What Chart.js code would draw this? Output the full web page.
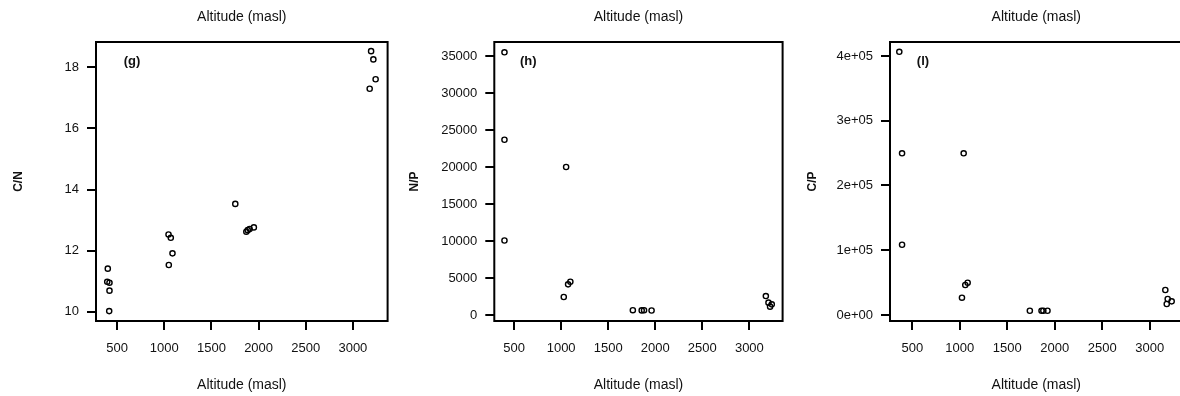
<!DOCTYPE html>
<html>
<head>
<meta charset="utf-8">
<script src="https://cdn.jsdelivr.net/npm/chart.js@4/dist/chart.umd.min.js"></script>
<style>
  html, body { margin: 0; padding: 0; background: #fff; overflow: hidden; }
  body { width: 1180px; height: 396px; position: relative; }
  .panel { position: absolute; top: 0; height: 396px; }
</style>
</head>
<body>
<div class="panel" style="left:0px;width:393px"><canvas id="g1"></canvas></div>
<div class="panel" style="left:393px;width:395px"><canvas id="g2"></canvas></div>
<div class="panel" style="left:788px;width:400px"><canvas id="g3"></canvas></div>
<script>
// altitudes and ratios
const altCN = [401, 395, 419, 419, 416, 1045, 1069, 1087, 1048, 1753, 1870, 1885, 1905, 1950, 3193, 3217, 3241, 3178];
const valCN = [11.41, 10.98, 10.95, 10.69, 10.02, 12.53, 12.42, 11.91, 11.53, 13.53, 12.62, 12.67, 12.71, 12.76, 18.53, 18.26, 17.61, 17.30];

const altNP = [398, 398, 398, 1053, 1028, 1074, 1098, 1762, 1856, 1881, 1961, 3175, 3203, 3238, 3220];
const valNP = [35500, 23680, 10070, 20000, 2430, 4140, 4500, 650, 620, 640, 610, 2560, 1670, 1440, 1130];

const altCP = [363, 392, 392, 1041, 1023, 1058, 1083, 1738, 1861, 1880, 1924, 3165, 3190, 3232, 3180];
const valCP = [406500, 249700, 108500, 249700, 26700, 46300, 49900, 6600, 6600, 6600, 6600, 38600, 24700, 21100, 17000];

// tick labels
const xTicks = [500, 1000, 1500, 2000, 2500, 3000];
const yTicksCN = [10, 12, 14, 16, 18];
const yTicksNP = [0, 5000, 10000, 15000, 20000, 25000, 30000, 35000];
const yTicksCP = [0, 100000, 200000, 300000, 400000];
const yLabelsCP = ["0e+00", "1e+05", "2e+05", "3e+05", "4e+05"];

const FONT = "'Liberation Sans', Arial, sans-serif";

// box around the plot region + panel letter
const boxPlugin = {
  id: "box",
  afterDraw(chart, args, opts) {
    const { ctx, chartArea: a } = chart;
    ctx.save();
    ctx.strokeStyle = "#000";
    ctx.lineWidth = 2;
    ctx.strokeRect(a.left, a.top, a.right - a.left, a.bottom - a.top);
    ctx.fillStyle = "#111";
    ctx.font = "bold 13px " + FONT;
    ctx.textAlign = "center";
    ctx.textBaseline = "middle";
    ctx.fillText(opts.letter, a.left + opts.dx, a.top + 19);
    ctx.restore();
  }
};

function makePanel(id, cfg) {
  const pts = cfg.alt.map((a, i) => ({ x: a, y: cfg.val[i] }));
  return new Chart(document.getElementById(id), {
    type: "scatter",
    data: {
      datasets: [{
        data: pts,
        pointStyle: "circle",
        pointRadius: 2.6,
        pointBorderWidth: 1.4,
        borderColor: "#000",
        backgroundColor: "rgba(0,0,0,0)"
      }]
    },
    options: {
      responsive: true,
      maintainAspectRatio: false,
      animation: false,
      layout: { padding: { left: 0, right: cfg.padRight, top: 0, bottom: 0 } },
      plugins: {
        legend: { display: false },
        tooltip: { enabled: false },
        box: { letter: cfg.letter, dx: cfg.letterDx }
      },
      scales: {
        x: {
          type: "linear",
          position: "bottom",
          min: cfg.xMin, max: cfg.xMax,
          afterBuildTicks: s => { s.ticks = xTicks.map(v => ({ value: v })); },
          afterFit: s => { s.height = 75; },
          border: { display: false },
          grid: { drawOnChartArea: false, drawTicks: true, tickLength: 9, color: "#000", lineWidth: 2 },
          ticks: {
            color: "#111", font: { family: FONT, size: 13 }, padding: 10.5, maxRotation: 0, autoSkip: false,
            callback: v => String(v)
          },
          title: { display: true, text: "Altitude (masl)", color: "#111", font: { family: FONT, size: 14 }, padding: { top: 0, bottom: 2.6 } }
        },
        xTop: {
          type: "linear",
          axis: "x",
          position: "top",
          min: cfg.xMin, max: cfg.xMax,
          afterFit: s => { s.height = 42; },
          border: { display: false },
          grid: { display: false },
          ticks: { display: false },
          title: { display: true, text: "Altitude (masl)", color: "#111", font: { family: FONT, size: 14 }, padding: { top: 8.3, bottom: 0 } }
        },
        y: {
          type: "linear",
          position: "left",
          min: cfg.yMin, max: cfg.yMax,
          afterBuildTicks: s => { s.ticks = cfg.yTicks.map(v => ({ value: v })); },
          afterFit: s => { s.width = cfg.yWidth; },
          border: { display: false },
          grid: { drawOnChartArea: false, drawTicks: true, tickLength: 9, color: "#000", lineWidth: 2 },
          ticks: {
            color: "#111", font: { family: FONT, size: 13 }, padding: 8, autoSkip: false,
            callback: v => cfg.yLabels ? cfg.yLabels[cfg.yTicks.indexOf(v)] : String(v)
          },
          title: { display: true, text: cfg.yTitle, color: "#111", font: { family: FONT, size: 12, weight: "bold" }, padding: { top: cfg.yTitlePad, bottom: 0 } }
        }
      }
    },
    plugins: [boxPlugin]
  });
}

makePanel("g1", {
  alt: altCN, val: valCN, xMin: 276, xMax: 3368, yMin: 9.696, yMax: 18.83,
  yTicks: yTicksCN, yTitle: "C/N", yWidth: 96, yTitlePad: 11.1, padRight: 3,
  letter: "(g)", letterDx: 36
});
makePanel("g2", {
  alt: altNP, val: valNP, xMin: 290, xMax: 3353, yMin: -811, yMax: 36892,
  yTicks: yTicksNP, yTitle: "N/P", yWidth: 101.3, yTitlePad: 14.8, padRight: 2,
  letter: "(h)", letterDx: 34
});
makePanel("g3", {
  alt: altCP, val: valCP, xMin: 265, xMax: 3347, yMin: -9266, yMax: 421600,
  yTicks: yTicksCP, yLabels: yLabelsCP, yTitle: "C/P", yWidth: 102, yTitlePad: 17.5, padRight: 4,
  letter: "(l)", letterDx: 33
});
</script>
</body>
</html>
